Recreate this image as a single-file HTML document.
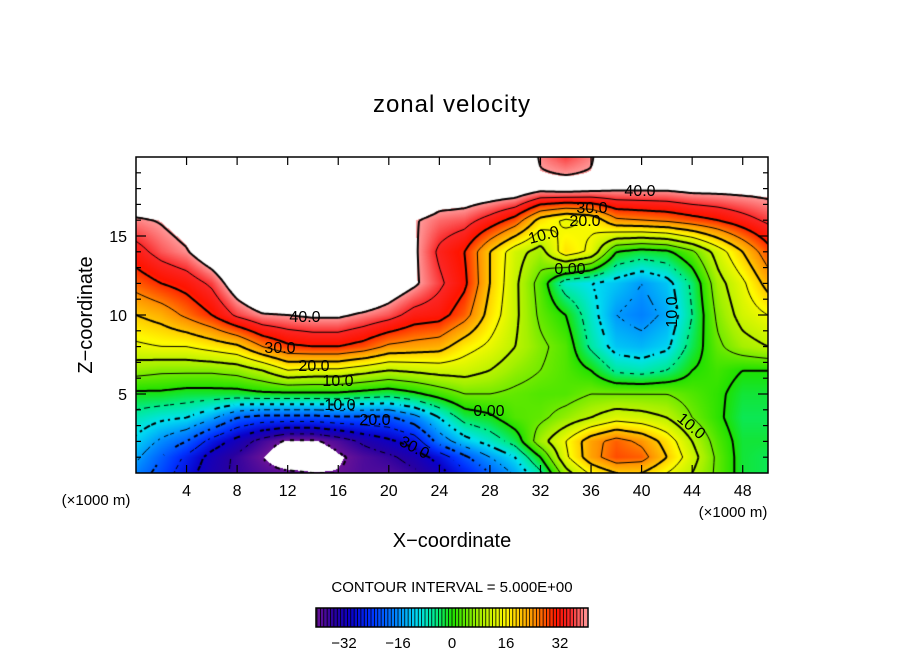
<!DOCTYPE html>
<html><head><meta charset="utf-8">
<style>
html,body{margin:0;padding:0;background:#fff;}
#wrap{position:relative;width:904px;height:654px;overflow:hidden;font-family:"Liberation Sans",sans-serif;}
canvas{position:absolute;left:0;top:0;}
svg{position:absolute;left:0;top:0;}
</style></head>
<body>
<div id="wrap">
<canvas id="field" width="904" height="654"></canvas>
<svg id="ov" width="904" height="654">
<text x="452" y="112" text-anchor="middle" font-size="24" letter-spacing="1">zonal velocity</text>
<text x="452" y="547" text-anchor="middle" font-size="20">X−coordinate</text>
<text transform="translate(92,315) rotate(-90)" text-anchor="middle" font-size="20">Z−coordinate</text>
<text x="96" y="505" text-anchor="middle" font-size="15">(×1000 m)</text>
<text x="733" y="517" text-anchor="middle" font-size="15">(×1000 m)</text>
<text x="452" y="592" text-anchor="middle" font-size="15">CONTOUR INTERVAL = 5.000E+00</text>
<g id="labels" font-size="16" fill="#000">
<text x="305" y="322" text-anchor="middle">40.0</text>
<text x="280" y="353" text-anchor="middle">30.0</text>
<text x="314" y="371" text-anchor="middle">20.0</text>
<text x="338" y="386" text-anchor="middle">10.0</text>
<text x="340" y="410" text-anchor="middle">10.0</text>
<text x="375" y="425" text-anchor="middle">20.0</text>
<text transform="translate(412,452) rotate(28)" text-anchor="middle">30.0</text>
<text x="489" y="416" text-anchor="middle">0.00</text>
<text transform="translate(688,430) rotate(40)" text-anchor="middle">10.0</text>
<text transform="translate(677,312) rotate(-90)" text-anchor="middle">10.0</text>
<text x="640" y="196" text-anchor="middle">40.0</text>
<text x="592" y="213" text-anchor="middle">30.0</text>
<text x="585" y="226" text-anchor="middle">20.0</text>
<text transform="translate(545,240) rotate(-15)" text-anchor="middle">10.0</text>
<text x="570" y="274" text-anchor="middle">0.00</text>
</g>
</svg>
</div>
<script>
// ---- data ----
const xCoords = [0,2,4,6,8,10,12,14,16,18,20,22,24,26,28,30,32,34,36,38,40,42,44,46,48,50];
const zLevels = [0,1,2,3.5,5,6.5,8,10,12,14,16,18,20];
const row_z0   = [-17,-22,-28,-33,-36,-38,-39,-40,-40,-38,-38,-36,-32,-26,-20,-14,-6,8,16,20,20,15,10,4,-2,-3];
const row_z1   = [-14,-20,-26,-32,-36,-40,-45,-45,-41,-38,-36,-33,-28,-21,-15,-10,0,14,23,28,27,20,12,4,-2,-3];
const row_z2   = [-11,-16,-20,-27,-32,-37,-41,-41,-38,-34,-31,-28,-18,-12,-8,-3,8,15,23,27,24,18,10,3,-2,-2];
const row_z3_5 = [-7,-9,-10,-14,-20,-22,-22,-22,-21,-21,-21,-17,-10,-3,-1,3,4,7,10,13,12,10,5,1,-3,-3];
const row_z5   = [-1,-1,-2,-2,-2,-1,-1,-1,-1,-2,-3,-1,2,5,5,4,3,3,5,5,5,5,3,1,-2,-2];
const row_z6_5 = [7,6,6,6,7,10,15,14,14,12,10,11,12,12,10,7,5,3,0,-6,-7,-5,0,2,0,0];
const row_z8   = [14,15,15,17,19,25,29,30,30,28,24,23,22,17,14,10,6,3,-6,-12,-13,-11,-3,4,8,10];
const row_z10  = [20,22,26,30,36,39.5,40,41,41,39,37,33,32,27,18,11,4,0,-8,-15,-17,-14,-5,6,12,15];
const row_z12  = [27,30,32,36,44,50,50,50,50,50,45,41,36,31,20,11,3,-8,-10,-12,-15,-12,-4,8,14,22];
const row_z14  = [33,37,39.5,45,50,50,50,50,50,50,50,41,34,30,20,12,8,18,14,0,-2,-1,4,12,20,28];
const row_z16  = [39,40.5,43,50,50,50,50,50,50,50,50,40.5,38,37,33,28,18,14,16,24,25,26,28,30,33,36];
const row_z18  = [50,50,50,50,50,50,50,50,50,50,50,50,45,45,45,45,42,43,42,41,41,41,42,42,42,42];
const row_z20  = [50,50,50,50,50,50,50,50,50,50,50,50,50,50,50,50,39,36,39,50,50,50,50,50,50,50];
const fieldRows = [row_z0,row_z1,row_z2,row_z3_5,row_z5,row_z6_5,row_z8,row_z10,row_z12,row_z14,row_z16,row_z18,row_z20];
const xTickLabels = [4,8,12,16,20,24,28,32,36,40,44,48];
const zTickLabels = [5,10,15];
const cbarTickLabels = [-32,-16,0,16,32];
const contourLevels = [-40,-35,-30,-25,-20,-15,-10,-5,0,5,10,15,20,25,30,35,40];

// ---- axes ----
const PX0=136, PX1=768, PY0=157, PY1=473, XMAX=50, ZMAX=20;
const sx = x => PX0 + x/XMAX*(PX1-PX0);
const sz = z => PY1 - z/ZMAX*(PY1-PY0);
const ix = px => (px-PX0)/(PX1-PX0)*XMAX;
const iz = py => (PY1-py)/(PY1-PY0)*ZMAX;

function field(x,z){
  let i = Math.min(Math.max(Math.floor(x/2),0),xCoords.length-2);
  let tx = (x - xCoords[i])/(xCoords[i+1]-xCoords[i]);
  let j = 0; while(j<zLevels.length-2 && z>zLevels[j+1]) j++;
  let tz = (z - zLevels[j])/(zLevels[j+1]-zLevels[j]);
  tx=Math.min(Math.max(tx,0),1); tz=Math.min(Math.max(tz,0),1);
  const a=fieldRows[j][i], b=fieldRows[j][i+1], c=fieldRows[j+1][i], d=fieldRows[j+1][i+1];
  return (a*(1-tx)+b*tx)*(1-tz)+(c*(1-tx)+d*tx)*tz;
}
const stops=[[-40.5,[110,20,150]],[-35,[40,0,160]],[-30,[10,0,200]],[-24,[0,50,255]],[-16,[0,140,255]],[-10,[0,225,240]],[-5,[0,235,140]],[0,[30,225,0]],[8,[165,240,0]],[16,[255,250,0]],[24,[255,150,0]],[31,[255,20,0]],[35,[250,40,40]],[40.5,[255,165,165]]];
function cmap(v){
  if(v>40.3||v<-40.3) return null;
  for(let k=0;k<stops.length-1;k++){
    if(v<=stops[k+1][0]){const t=Math.max(0,(v-stops[k][0])/(stops[k+1][0]-stops[k][0]));
      const A=stops[k][1],B=stops[k+1][1];return [A[0]+(B[0]-A[0])*t,A[1]+(B[1]-A[1])*t,A[2]+(B[2]-A[2])*t];}
  }
  return stops[stops.length-1][1];
}
const cv=document.getElementById('field');const ctx=cv.getContext('2d');
const W=PX1-PX0,H=PY1-PY0;
const img=ctx.createImageData(W,H);
for(let py=0;py<H;py++){for(let px=0;px<W;px++){
  const v=field(ix(PX0+px+0.5),iz(PY0+py+0.5));const c=cmap(v);const o=(py*W+px)*4;
  if(c){img.data[o]=c[0];img.data[o+1]=c[1];img.data[o+2]=c[2];}else{img.data[o]=255;img.data[o+1]=255;img.data[o+2]=255;}
  img.data[o+3]=255;}}
ctx.putImageData(img,PX0,PY0);

// contours by marching squares
const STEP=2, NX=Math.floor(W/STEP)+1, NY=Math.floor(H/STEP)+1;
const G=[];for(let j=0;j<NY;j++){G[j]=[];for(let i=0;i<NX;i++)G[j][i]=field(ix(PX0+i*STEP),iz(PY0+j*STEP));}
ctx.save();ctx.beginPath();ctx.rect(PX0,PY0,W,H);ctx.clip();
contourLevels.forEach(L=>{
  ctx.beginPath();
  const thick = (L%10===0); ctx.lineWidth = thick?2:1; ctx.strokeStyle='#000';
  for(let j=0;j<NY-1;j++)for(let i=0;i<NX-1;i++){
    const a=G[j][i],b=G[j][i+1],c=G[j+1][i+1],d=G[j+1][i];
    const pts=[];
    const e=(v1,v2,x1,y1,x2,y2)=>{const t=(L-v1)/(v2-v1);pts.push([x1+(x2-x1)*t,y1+(y2-y1)*t]);};
    const X=PX0+i*STEP,Y=PY0+j*STEP;
    if((a<L)!==(b<L))e(a,b,X,Y,X+STEP,Y);
    if((b<L)!==(c<L))e(b,c,X+STEP,Y,X+STEP,Y+STEP);
    if((c<L)!==(d<L))e(c,d,X+STEP,Y+STEP,X,Y+STEP);
    if((d<L)!==(a<L))e(d,a,X,Y+STEP,X,Y);
    for(let k=0;k+1<pts.length;k+=2){
      if(L<0){const mx=(pts[k][0]+pts[k+1][0])/2,my=(pts[k][1]+pts[k+1][1])/2;
        if((Math.floor(mx/5)+Math.floor(my/5))%2!==0) continue;}
      ctx.moveTo(pts[k][0],pts[k][1]);ctx.lineTo(pts[k+1][0],pts[k+1][1]);}
  }
  ctx.stroke();
});
ctx.restore();

// frame + ticks
const svg=document.getElementById('ov');const NS='http://www.w3.org/2000/svg';
function mk(tag,attrs){const el=document.createElementNS(NS,tag);for(const k in attrs)el.setAttribute(k,attrs[k]);svg.appendChild(el);return el;}
let fr=mk('rect',{x:PX0,y:PY0,width:W,height:H,fill:'none',stroke:'#000','stroke-width':1.5});


for(let x=4;x<XMAX;x+=4){
  let t1=mk('line',{x1:sx(x),x2:sx(x),y1:PY1,y2:PY1-8,stroke:'#000','stroke-width':1.2});
  
  
  let t2=mk('line',{x1:sx(x),x2:sx(x),y1:PY0,y2:PY0+8,stroke:'#000','stroke-width':1.2});
  
  
}
xTickLabels.forEach(v=>{let t=mk('text',{x:sx(v),y:496,'text-anchor':'middle','font-size':16});t.textContent=v;
  
  });
for(let z=1;z<ZMAX;z++){
  const len=(z%5===0)?10:5;
  let t1=mk('line',{x1:PX0,x2:PX0+len,y1:sz(z),y2:sz(z),stroke:'#000','stroke-width':1.2});
  
  
  let t2=mk('line',{x1:PX1,x2:PX1-len,y1:sz(z),y2:sz(z),stroke:'#000','stroke-width':1.2});
  
  
}
zTickLabels.forEach(v=>{let t=mk('text',{x:127,y:sz(v)+6,'text-anchor':'end','font-size':16});t.textContent=v;
  
  });

// colorbar
const CB0=316,CB1=588,CBY=608,CBH=19,CMIN=-40.3,CMAX=40.3;
const cbx=v=>CB0+(v-CMIN)/(CMAX-CMIN)*(CB1-CB0);
for(let v=-40;v<40;v++){
  const c=cmap(v+0.5);
  let r=mk('rect',{x:cbx(v),y:CBY,width:cbx(v+1)-cbx(v)+0.3,height:CBH,fill:`rgb(${c[0]|0},${c[1]|0},${c[2]|0})`});
  
  
  let l=mk('line',{x1:cbx(v),x2:cbx(v),y1:CBY,y2:CBY+CBH,stroke:'#000','stroke-width':0.8});
  
  
}
let cf=mk('rect',{x:CB0,y:CBY,width:CB1-CB0,height:CBH,fill:'none',stroke:'#000','stroke-width':1.5});


cbarTickLabels.forEach(v=>{let t=mk('text',{x:cbx(v),y:648,'text-anchor':'middle','font-size':15});t.textContent=(v<0?'−'+(-v):v);
  
  });
</script>
</body></html>
